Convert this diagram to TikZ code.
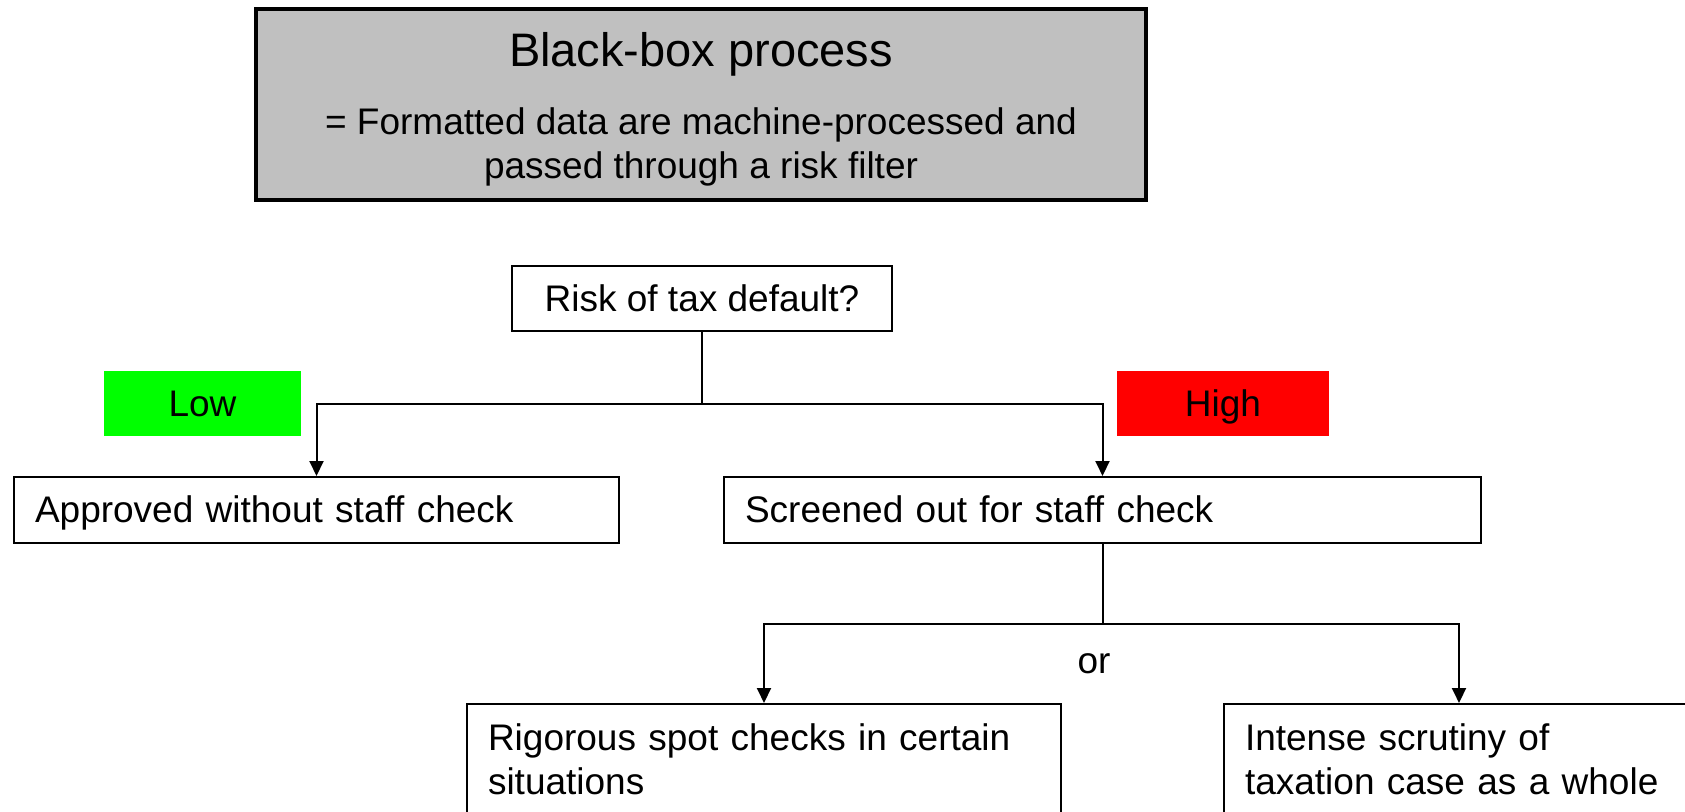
\documentclass[tikz,border=0pt]{standalone}
\usepackage{fontspec}
\setmainfont{Liberation Sans}
\usetikzlibrary{arrows.meta}
\definecolor{boxgray}{HTML}{C0C0C0}
\definecolor{lowgreen}{HTML}{00FF00}
\definecolor{highred}{HTML}{FF0000}

\begin{document}
\begin{tikzpicture}[x=0.5pt, y=-0.5pt,
    every node/.style={font=\fontsize{18.5}{22}\selectfont},
    oneline/.style={text height=16.6pt, text depth=3.7pt},
    question/.style={draw, line width=1pt, oneline, inner sep=0pt, minimum width=190pt, minimum height=32.5pt},
    decision/.style={draw, line width=1pt, oneline, inner xsep=10.5pt, inner ysep=0pt, minimum height=33pt, align=left},
    followup/.style={draw, line width=1pt, inner xsep=10.5pt, inner ysep=10pt, align=left, anchor=north west},
    riskband/.style={oneline, inner sep=0pt, minimum height=32.5pt},
    link/.style={line width=1pt},
    arrow/.style={line width=1pt, -{Triangle[length=7.5pt, width=7pt]}}]

    % Frame
    \useasboundingbox (0,0) rectangle (1685,812);
    \clip (0,0) rectangle (1685,812);

    % Black box
    \node[draw, line width=2pt, fill=boxgray, minimum width=445pt, minimum height=95.5pt] (blackbox) at (701,104.5) {};
    \node[font=\fontsize{23.5}{28}\selectfont] (title) at (701,54) {Black-box process};
    \node[align=center] (filter) at (701,147) {= Formatted data are machine-processed and\\passed through a risk filter};

    % Risk question
    \node[question] (risk) at (702,298.5) {Risk of tax default?};
    \node[riskband, fill=lowgreen, minimum width=98.5pt] (low) at (202.5,403.5) {Low};
    \node[riskband, fill=highred, minimum width=106pt] (high) at (1223,403.5) {High};

    % Outcomes
    \node[decision, anchor=west, text width=281.5pt] (approved) at (13,510) {Approved without staff check};
    \node[decision, anchor=west, text width=357.5pt] (screened) at (723,510) {Screened out for staff check};
    \node[followup, text width=276pt] (spot) at (466,703) {Rigorous spot checks in certain\\situations};
    \node[followup, text width=214pt] (scrutiny) at (1223,703) {Intense scrutiny of\\taxation case as a whole};
    \node (or) at (1094,664) {or};

    % Connectors
    \coordinate (riskfork) at (risk.south |- 0,404);
    \coordinate (checkfork) at (screened.south |- 0,624);
    \draw[link] (risk.south) -- (riskfork);
    \draw[arrow] (riskfork) -| (approved.north);
    \draw[arrow] (riskfork) -| (screened.north);
    \draw[link] (screened.south) -- (checkfork);
    \draw[arrow] (checkfork) -| (spot.north);
    \draw[arrow] (checkfork) -| (scrutiny.north);

\end{tikzpicture}
\end{document}
